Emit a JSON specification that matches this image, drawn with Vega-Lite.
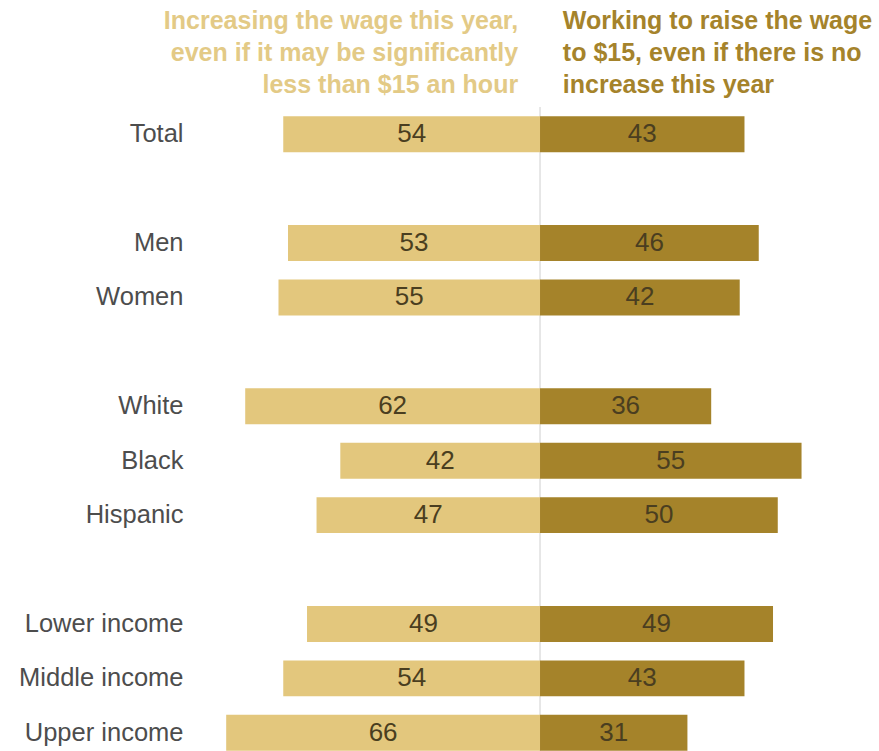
{
  "$schema": "https://vega.github.io/schema/vega-lite/v6.json",
  "background": "white",
  "padding": {"left": 18, "top": 0, "right": 0, "bottom": 0},
  "spacing": 0,
  "config": {"view": {"stroke": null}, "font": "Liberation Sans"},
  "datasets": {
    "bars": [
      {"group": "Total", "side": "left", "value": -54, "pct": 54},
      {"group": "Total", "side": "right", "value": 43, "pct": 43},
      {"group": "Men", "side": "left", "value": -53, "pct": 53},
      {"group": "Men", "side": "right", "value": 46, "pct": 46},
      {"group": "Women", "side": "left", "value": -55, "pct": 55},
      {"group": "Women", "side": "right", "value": 42, "pct": 42},
      {"group": "White", "side": "left", "value": -62, "pct": 62},
      {"group": "White", "side": "right", "value": 36, "pct": 36},
      {"group": "Black", "side": "left", "value": -42, "pct": 42},
      {"group": "Black", "side": "right", "value": 55, "pct": 55},
      {"group": "Hispanic", "side": "left", "value": -47, "pct": 47},
      {"group": "Hispanic", "side": "right", "value": 50, "pct": 50},
      {"group": "Lower income", "side": "left", "value": -49, "pct": 49},
      {"group": "Lower income", "side": "right", "value": 49, "pct": 49},
      {"group": "Middle income", "side": "left", "value": -54, "pct": 54},
      {"group": "Middle income", "side": "right", "value": 43, "pct": 43},
      {"group": "Upper income", "side": "left", "value": -66, "pct": 66},
      {"group": "Upper income", "side": "right", "value": 31, "pct": 31}
    ],
    "header": [
      {"side": "left", "line": 1, "text": "Increasing the wage this year,"},
      {"side": "left", "line": 2, "text": "even if it may be significantly"},
      {"side": "left", "line": 3, "text": "less than $15 an hour"},
      {"side": "right", "line": 1, "text": "Working to raise the wage"},
      {"side": "right", "line": 2, "text": "to $15, even if there is no"},
      {"side": "right", "line": 3, "text": "increase this year"}
    ]
  },
  "vconcat": [
    {
      "width": 689,
      "height": 106,
      "data": {"name": "header"},
      "layer": [
        {
          "transform": [{"filter": "datum.side == 'left'"}],
          "mark": {"type": "text", "align": "right", "baseline": "middle", "fontSize": 25, "fontWeight": "bold", "color": "#e3ca86"},
          "encoding": {
            "x": {"datum": -4.6, "type": "quantitative", "scale": {"domain": [-73.4, 71.5]}, "axis": null},
            "y": {"field": "line", "type": "ordinal", "scale": {"type": "point", "padding": 0.66}, "axis": null},
            "text": {"field": "text"}
          }
        },
        {
          "transform": [{"filter": "datum.side == 'right'"}],
          "mark": {"type": "text", "align": "left", "baseline": "middle", "fontSize": 25, "fontWeight": "bold", "color": "#a5832b"},
          "encoding": {
            "x": {"datum": 4.8, "type": "quantitative", "scale": {"domain": [-73.4, 71.5]}, "axis": null},
            "y": {"field": "line", "type": "ordinal", "scale": {"type": "point", "padding": 0.66}, "axis": null},
            "text": {"field": "text"}
          }
        }
      ]
    },
    {
      "width": 689,
      "height": 653,
      "resolve": {"scale": {"x": "independent"}},
      "layer": [
        {
          "data": {"values": [{}]},
          "mark": {"type": "rule", "color": "#cfcfcf", "strokeWidth": 1},
          "encoding": {
            "x": {"datum": 0, "type": "quantitative", "scale": {"domain": [-73.4, 71.5]}, "axis": null}
          }
        },
        {
          "data": {"name": "bars"},
          "mark": {"type": "bar"},
          "encoding": {
            "x": {"field": "value", "type": "quantitative", "stack": null, "scale": {"domain": [-73.4, 71.5]}, "axis": null},
            "x2": {"datum": 0},
            "y": {
              "field": "group", "type": "nominal", "sort": null,
              "scale": {"domain": ["Total", " ", "Men", "Women", "  ", "White", "Black", "Hispanic", "   ", "Lower income", "Middle income", "Upper income"], "paddingInner": 0.34, "paddingOuter": 0.17},
              "axis": {"title": null, "domain": false, "ticks": false, "labelFontSize": 25.5, "labelColor": "#4d4d4d", "labelPadding": 8, "labelLimit": 400, "labelFont": "Liberation Sans"}
            },
            "color": {"field": "side", "type": "nominal", "scale": {"domain": ["left", "right"], "range": ["#e3c77d", "#a5832a"]}, "legend": null}
          }
        },
        {
          "data": {"name": "bars"},
          "mark": {"type": "text", "fontSize": 26, "baseline": "middle", "align": "center", "color": "#4a3e20"},
          "encoding": {
            "x": {"field": "value", "type": "quantitative", "stack": null, "scale": {"domain": [-146.8, 143.0]}, "axis": null},
            "y": {"field": "group", "type": "nominal", "sort": null},
            "text": {"field": "pct", "type": "quantitative"}
          }
        }
      ]
    }
  ]
}
